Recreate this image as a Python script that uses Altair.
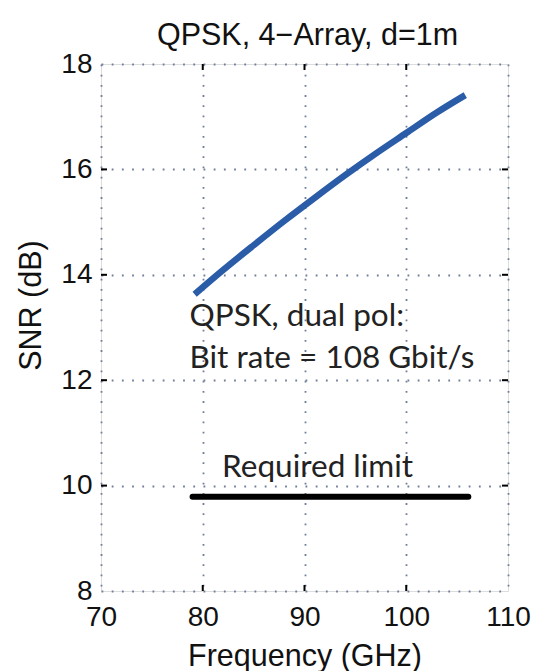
import altair as alt
import pandas as pd

# SNR curve (QPSK, dual pol)
freq = [79.2, 82.0, 85.0, 88.0, 91.0, 94.0, 97.0, 100.0, 103.0, 105.8]
snr = [13.63, 14.09, 14.56, 15.02, 15.46, 15.89, 16.30, 16.69, 17.08, 17.41]

# Required limit line
limit_freq = [79.0, 106.1]
limit_snr = [9.79, 9.79]

# annotations
ann_text = ["QPSK, dual pol:", "Bit rate = 108 Gbit/s"]
ann_x = [78.7, 78.7]
ann_y = [13.03, 12.23]
req_text = ["Required limit"]
req_x = [81.9]
req_y = [10.16]

title_text = ["QPSK, 4\u2212Array, d=1m"]

x_ticks = [70, 80, 90, 100, 110]
y_ticks = [8, 10, 12, 14, 16, 18]
x_inner = [80, 90, 100]
y_inner = [10, 12, 14, 16]

W, H = 407, 527
AXF = "Liberation Sans"

curve = pd.DataFrame({"f": freq, "s": snr})
limit = pd.DataFrame({"f": limit_freq, "s": limit_snr})
ann = pd.DataFrame({"t": ann_text, "f": ann_x, "s": ann_y})
req = pd.DataFrame({"t": req_text, "f": req_x, "s": req_y})
ttl = pd.DataFrame({"t": title_text})
xi = pd.DataFrame({"f": x_inner})
yi = pd.DataFrame({"s": y_inner})

xscale = alt.Scale(domain=[70, 110], nice=False, zero=False)
yscale = alt.Scale(domain=[8, 18], nice=False, zero=False)

grid_kw = dict(grid=True, gridDash=[1.8, 8.4], gridColor="#6f7f99", gridWidth=1.8, gridOpacity=1,
               ticks=False, domain=False, labelFlush=False,
               labelFont=AXF, labelFontSize=28, labelColor="#111",
               titleFont=AXF, titleFontSize=30.5, titleFontWeight="normal", titleColor="#111")

xaxis = alt.Axis(values=x_ticks, title="Frequency (GHz)", labelPadding=12,
                 titleX=W / 2, titleY=74, titleBaseline="alphabetic", titleAnchor="middle", **grid_kw)
yaxis = alt.Axis(values=y_ticks, title="SNR (dB)", labelPadding=9,
                 titleX=-70, titleY=241, titleAngle=270, titleBaseline="middle", titleAnchor="middle",
                 **grid_kw)

base_line = alt.Chart(curve).mark_line(color="#2b5ca8", strokeWidth=6.5, strokeCap="butt",
                                       interpolate="monotone").encode(
    x=alt.X("f:Q", scale=xscale, axis=xaxis),
    y=alt.Y("s:Q", scale=yscale, axis=yaxis),
)
limit_line = alt.Chart(limit).mark_line(color="#000000", strokeWidth=6, strokeCap="round").encode(
    x=alt.X("f:Q", scale=xscale), y=alt.Y("s:Q", scale=yscale))

ann_marks = alt.Chart(ann).mark_text(font="Lato", fontSize=31.5, align="left", baseline="alphabetic",
                                     color="#222222").encode(
    x=alt.X("f:Q", scale=xscale), y=alt.Y("s:Q", scale=yscale), text="t:N")
req_marks = alt.Chart(req).mark_text(font="Lato", fontSize=31.5, align="left", baseline="alphabetic",
                                     color="#222222").encode(
    x=alt.X("f:Q", scale=xscale), y=alt.Y("s:Q", scale=yscale), text="t:N")

title_mark = alt.Chart(ttl).mark_text(font=AXF, fontSize=30.5, align="center", baseline="alphabetic",
                                      color="#111111").encode(
    x=alt.value(W / 2 + 3), y=alt.value(-19), text="t:N")

tick_len = 6
xt_bottom = alt.Chart(xi).mark_rule(color="black", strokeWidth=2).encode(
    x=alt.X("f:Q", scale=xscale), y=alt.value(H), y2=alt.value(H - tick_len))
xt_top = alt.Chart(xi).mark_rule(color="black", strokeWidth=2).encode(
    x=alt.X("f:Q", scale=xscale), y=alt.value(0), y2=alt.value(tick_len))
yt_left = alt.Chart(yi).mark_rule(color="black", strokeWidth=2).encode(
    y=alt.Y("s:Q", scale=yscale), x=alt.value(0), x2=alt.value(tick_len))
yt_right = alt.Chart(yi).mark_rule(color="black", strokeWidth=2).encode(
    y=alt.Y("s:Q", scale=yscale), x=alt.value(W), x2=alt.value(W - tick_len))

chart = alt.layer(base_line, limit_line, ann_marks, req_marks, title_mark,
                  xt_bottom, xt_top, yt_left, yt_right).properties(
    width=W, height=H,
    autosize=alt.AutoSizeParams(type="none"),
    padding={"left": 93, "top": 56, "right": 30, "bottom": 90},
).configure_view(stroke="black", strokeWidth=2.5).configure(background="white")

chart.save("out.html", embed_options={"renderer": "svg", "actions": False})
